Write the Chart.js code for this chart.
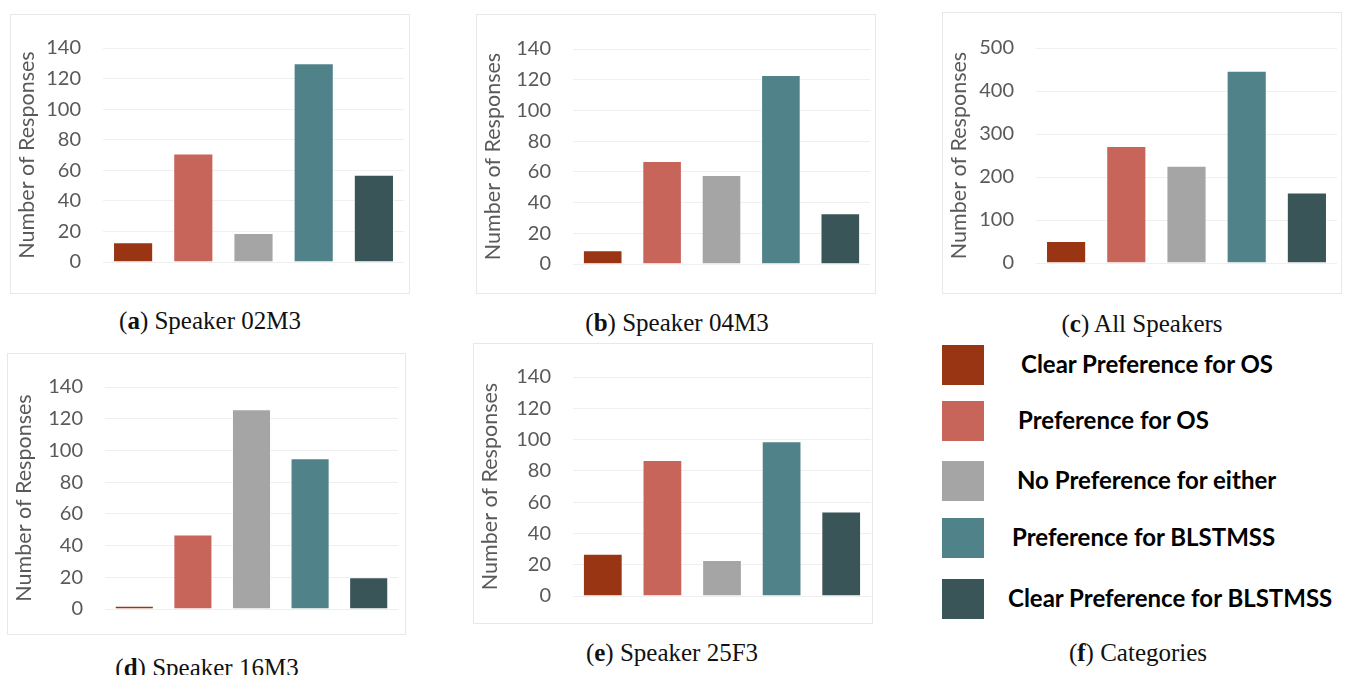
<!DOCTYPE html>
<html lang="en">
<head>
  <meta charset="UTF-8">
  <title>Responses per Speaker</title>
  <script src="https://cdn.jsdelivr.net/npm/chart.js"></script>
  <style>
    body {
      margin: 0;
      width: 1348px;
      height: 675px;
      background: #ffffff;
      position: relative;
      overflow: hidden;
    }
    .box {
      position: absolute;
      border: 1px solid #e8e8e8;
      box-sizing: border-box;
    }
    .box canvas {
      position: absolute;
      left: -1px;
      top: -1px;
    }
    .caption {
      position: absolute;
      font-family: "Liberation Serif", serif;
      font-size: 25px;
      line-height: 30px;
      color: #111;
      transform: translateX(-50%);
      white-space: nowrap;
    }
    .legend-item {
      position: absolute;
      left: 942px;
    }
    .legend-color {
      width: 42px;
      height: 40px;
    }
    .legend-label {
      position: absolute;
      font-family: Lato, sans-serif;
      font-weight: bold;
      font-size: 24px;
      line-height: 28px;
      color: #000;
      white-space: nowrap;
    }
  </style>
</head>
<body>
  <div id="charts"></div>
  <div id="legend"></div>

  <script>
    const categories = [
      'Clear Preference for OS',
      'Preference for OS',
      'No Preference for either',
      'Preference for BLSTMSS',
      'Clear Preference for BLSTMSS'
    ];
    const colors = ['#993513', '#c8655b', '#a5a5a5', '#508289', '#3a5558'];

    const speaker02M3 = [13, 71, 19, 130, 57];
    const speaker04M3 = [9, 67, 58, 123, 33];
    const allSpeakers = [51, 272, 226, 447, 164];
    const speaker16M3 = [2, 47, 126, 95, 20];
    const speaker25F3 = [27, 87, 23, 99, 54];

    const ticks140 = [0, 20, 40, 60, 80, 100, 120, 140];
    const ticks500 = [0, 100, 200, 300, 400, 500];

    // box = border rectangle, plot = chart area (left, right, top gridline, zero line)
    const panels = [
      { data: speaker02M3, ticks: ticks140, box: [10, 14, 400, 280], plot: [103, 404, 47, 262],
        caption: ['a', ' Speaker 02M3'], cap: [210, 306] },
      { data: speaker04M3, ticks: ticks140, box: [476, 14, 400, 280], plot: [573, 870, 49, 264],
        caption: ['b', ' Speaker 04M3'], cap: [677, 308] },
      { data: allSpeakers, ticks: ticks500, box: [942, 12, 400, 282], plot: [1036, 1337, 48, 263],
        caption: ['c', ' All Speakers'], cap: [1142, 309] },
      { data: speaker16M3, ticks: ticks140, box: [7, 353, 399, 282], plot: [105, 398, 385, 609],
        caption: ['d', ' Speaker 16M3'], cap: [207, 653] },
      { data: speaker25F3, ticks: ticks140, box: [473, 343, 400, 281], plot: [573, 871, 376, 596],
        caption: ['e', ' Speaker 25F3'], cap: [672, 638] }
    ];

    const chartsDiv = document.getElementById('charts');
    const bottomRoom = 40;

    panels.forEach((p, i) => {
      const [bx, by, bw, bh] = p.box;
      const [pl, pr, pt, pb] = p.plot;

      const box = document.createElement('div');
      box.className = 'box';
      box.style.left = bx + 'px';
      box.style.top = by + 'px';
      box.style.width = bw + 'px';
      box.style.height = bh + 'px';

      const canvas = document.createElement('canvas');
      canvas.width = bw;
      canvas.height = (pb - by) + bottomRoom;
      box.appendChild(canvas);
      chartsDiv.appendChild(box);

      const yMax = p.ticks[p.ticks.length - 1];
      const step = p.ticks[1] - p.ticks[0];

      new Chart(canvas.getContext('2d'), {
        type: 'bar',
        data: {
          labels: categories,
          datasets: [{
            data: p.data,
            backgroundColor: colors,
            borderColor: 'rgba(255,255,255,0.6)',
            borderWidth: 1,
            categoryPercentage: 1,
            barPercentage: 0.667
          }]
        },
        options: {
          responsive: false,
          animation: false,
          layout: {
            padding: { left: 0, top: pt - by, right: bx + bw - pr, bottom: bottomRoom }
          },
          plugins: { legend: { display: false }, tooltip: { enabled: false } },
          scales: {
            x: { display: false },
            y: {
              min: 0,
              max: yMax,
              afterFit: (scale) => { scale.width = pl - bx; },
              afterBuildTicks: (scale) => { scale.ticks = p.ticks.map(v => ({ value: v })); },
              ticks: {
                stepSize: step,
                padding: 22,
                color: '#595959',
                font: { family: 'Lato', size: 20 }
              },
              grid: { color: '#efefef', drawTicks: false, lineWidth: 1 },
              border: { display: false },
              title: {
                display: true,
                text: 'Number of Responses',
                color: '#595959',
                font: { family: 'Lato', size: 21.5 },
                padding: { top: 4, bottom: 0 }
              }
            }
          }
        }
      });

      const cap = document.createElement('div');
      cap.className = 'caption';
      cap.style.left = p.cap[0] + 'px';
      cap.style.top = p.cap[1] + 'px';
      cap.innerHTML = '(<b>' + p.caption[0] + '</b>)' + p.caption[1];
      document.body.appendChild(cap);
    });

    // legend panel (f)
    const legendDiv = document.getElementById('legend');
    const rowTops = [345, 401, 461, 518, 579];
    const labelLefts = [1021, 1018, 1017, 1012, 1008];
    categories.forEach((c, i) => {
      const item = document.createElement('div');
      item.className = 'legend-item';
      item.style.top = rowTops[i] + 'px';
      const sw = document.createElement('div');
      sw.className = 'legend-color';
      sw.style.backgroundColor = colors[i];
      item.appendChild(sw);
      legendDiv.appendChild(item);

      const label = document.createElement('div');
      label.className = 'legend-label';
      label.style.left = labelLefts[i] + 'px';
      label.style.top = (rowTops[i] + 5) + 'px';
      label.textContent = c;
      legendDiv.appendChild(label);
    });

    const capF = document.createElement('div');
    capF.className = 'caption';
    capF.style.left = '1138px';
    capF.style.top = '638px';
    capF.innerHTML = '(<b>f</b>) Categories';
    document.body.appendChild(capF);
  </script>
</body>
</html>
